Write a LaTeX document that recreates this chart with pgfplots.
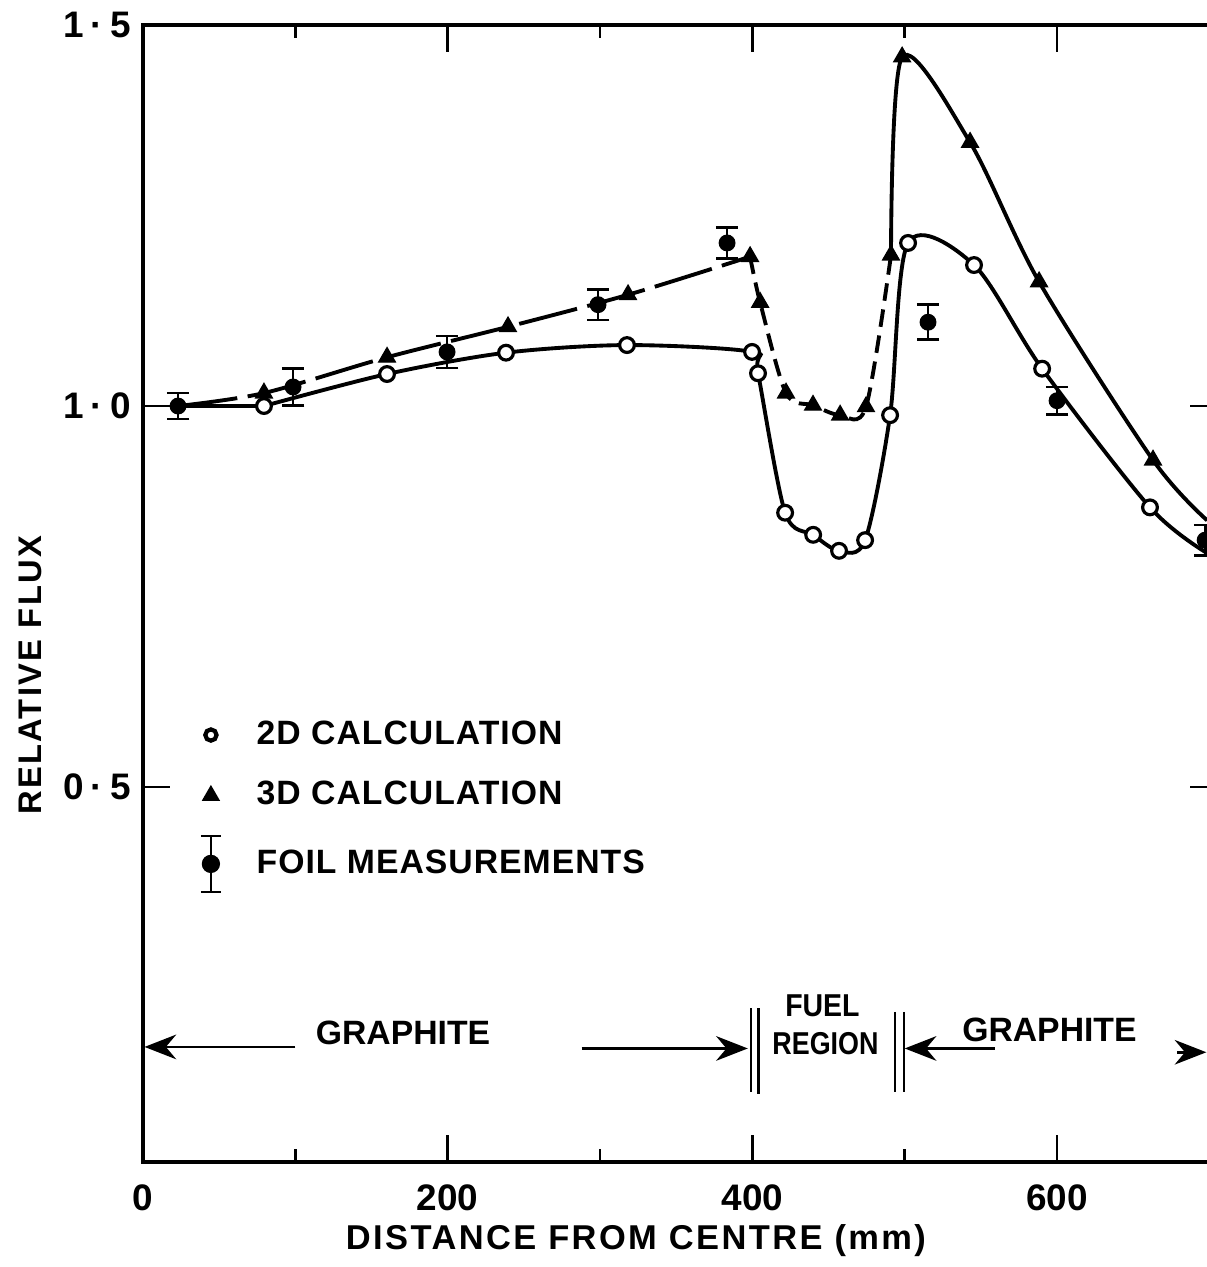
\documentclass[border=0pt]{standalone}
\usepackage{fontspec}
\setmainfont{Liberation Sans}
\usepackage{pgfplots}
\pgfplotsset{compat=1.18}
\usetikzlibrary{arrows.meta}

\begin{document}
\begin{tikzpicture}
\useasboundingbox (-1.43,-1.05) rectangle (10.64,11.62);
\clip (-1.43,-1.05) rectangle (10.64,11.62);
\begin{axis}[
  at={(0,0)}, anchor=south west, scale only axis,
  width=10.74cm, height=11.37cm,
  xmin=0, xmax=705, ymin=0.008, ymax=1.5,
  axis line style={line width=1.2pt},
  every tick/.style={black, line width=0.7pt},
  xtick={0,200,400,600}, minor xtick={100,300,500},
  ytick={0.5,1,1.5},
  yticklabels={0\kern2pt·\kern2pt5, 1\kern2pt·\kern2pt0, 1\kern2pt·\kern2pt5},
  major tick length=0.27cm, minor tick length=0.13cm,
  tick pos=both,
  /pgf/number format/assume math mode=true,
  xticklabel style={font=\bfseries\fontsize{10.5}{12}\selectfont, yshift=-3pt},
  yticklabel style={font=\bfseries\fontsize{10.5}{12}\selectfont},
  xlabel={DISTANCE FROM CENTRE (mm)},
  ylabel={RELATIVE FLUX},
  xlabel style={at={(axis description cs:0.459,-0.069)}, anchor=center, font=\bfseries\fontsize{9.8}{12}\selectfont\addfontfeatures{LetterSpace=7}},
  ylabel style={at={(axis description cs:-0.105,0.428)}, anchor=center, font=\bfseries\fontsize{9.3}{12}\selectfont\addfontfeatures{LetterSpace=7}},
  legend style={at={(axis description cs:0.034,0.395)}, anchor=north west, draw=none, fill=none,
    font=\bfseries\fontsize{9.6}{12}\selectfont\addfontfeatures{LetterSpace=3}, row sep=5pt, inner sep=0pt},
  legend cell align=left,
]
\addlegendimage{legend image code/.code={
  \draw[line width=1.2pt, fill=white] (0.3cm,0cm) circle (1.6pt);
  \path (0cm,0cm) (0.68cm,0cm);}}
\addlegendentry{2D CALCULATION}
\addlegendimage{legend image code/.code={
  \draw[mark=triangle*, mark size=2.6pt, fill=black] plot coordinates {(0.3cm,0cm)};
  \path (0cm,0cm) (0.68cm,0cm);}}
\addlegendentry{3D CALCULATION}
\addlegendimage{legend image code/.code={
  \draw[line width=0.8pt] (0.3cm,-0.28cm) -- (0.3cm,0.28cm);
  \draw[line width=0.8pt] (0.2cm,0.28cm) -- (0.4cm,0.28cm);
  \draw[line width=0.8pt] (0.2cm,-0.28cm) -- (0.4cm,-0.28cm);
  \fill (0.3cm,0cm) circle (2.4pt);
  \path (0cm,0cm) (0.68cm,0cm);}}
\addlegendentry{FOIL MEASUREMENTS}

% 3D curve (line)
\addplot[black, line width=1.1pt, smooth, tension=0.5, dash pattern=on 17pt off 3pt, forget plot] coordinates {
(23,1.000) (79.4,1.017) (160.2,1.064) (239.6,1.104) (318.4,1.146) (398.5,1.196)};
\addplot[black, line width=1.1pt, smooth, tension=0.5, dash pattern=on 5pt off 2.5pt, forget plot] coordinates {
(398.5,1.196) (405.1,1.136) (422.1,1.017) (439.8,1.001) (457.6,0.988) (474.6,0.999) (491.0,1.198)};
\addplot[black, line width=1.1pt, smooth, tension=0.5, forget plot] coordinates {
(491.0,1.198) (498.3,1.458) (542.9,1.346) (588.2,1.163) (663.0,0.929) (698.5,0.850)};

% 2D curve (line)
\addplot[black, line width=1.1pt, forget plot] coordinates {(23,1.000) (79.4,1.000)};
\addplot[black, line width=1.1pt, smooth, tension=0.5, forget plot] coordinates {
(79.4,1.000) (160.2,1.042) (238.3,1.070) (317.7,1.080) (399.8,1.071) (403.7,1.043)
(421.5,0.860) (439.9,0.831) (456.9,0.810) (474.0,0.824) (490.4,0.988) (502.2,1.214)
(545.5,1.185) (590.2,1.049) (661.0,0.867) (698.5,0.807)};

% 2D markers
\addplot[only marks, mark=*, mark size=2.1pt, mark options={fill=white, draw=black, line width=0.9pt}, forget plot] coordinates {
(79.4,1.000) (160.2,1.042) (238.3,1.070) (317.7,1.080) (399.8,1.071) (403.7,1.043)
(421.5,0.860) (439.9,0.831) (456.9,0.810) (474.0,0.824) (490.4,0.988) (502.2,1.214)
(545.5,1.185) (590.2,1.049) (661.0,0.867)};

% 3D markers
\addplot[only marks, mark=triangle*, mark size=2.7pt, mark options={fill=black, draw=black}, forget plot] coordinates {
(79.4,1.017) (160.2,1.064) (239.6,1.104) (318.4,1.146) (398.5,1.196) (405.1,1.136)
(422.1,1.017) (439.8,1.001) (457.6,0.988) (474.6,0.999) (491.0,1.198) (498.3,1.458)
(542.9,1.346) (588.2,1.163) (663.0,0.929)};

% Foil measurements
\addplot[only marks, mark=*, mark size=2.2pt, black, forget plot,
  error bars/.cd, y dir=both, y explicit,
  error bar style={line width=0.8pt},
  error mark options={rotate=90, mark size=3.2pt, line width=0.8pt}] coordinates {
(23,1.000) +- (0,0.017)
(98.5,1.025) +- (0,0.024)
(199.6,1.071) +- (0,0.021)
(298.7,1.133) +- (0,0.020)
(383.4,1.214) +- (0,0.020)
(515.3,1.110) +- (0,0.023)
(600.0,1.007) +- (0,0.018)
(697.2,0.824) +- (0,0.020)};

% Region annotations
\draw[line width=0.8pt, -{Stealth[length=9pt,width=7pt]}] (axis cs:100,0.159) -- (axis cs:1,0.159);
\draw[line width=0.8pt, -{Stealth[length=9pt,width=7pt]}] (axis cs:288,0.157) -- (axis cs:397,0.157);
\draw[line width=0.8pt, -{Stealth[length=9pt,width=7pt]}] (axis cs:559,0.157) -- (axis cs:500,0.157);
\draw[line width=0.8pt, -{Stealth[length=9pt,width=7pt]}] (axis cs:679,0.152) -- (axis cs:698,0.152);
\draw[line width=0.7pt] (axis cs:399,0.210) -- (axis cs:399,0.100);
\draw[line width=0.7pt] (axis cs:404,0.210) -- (axis cs:404,0.097);
\draw[line width=0.7pt] (axis cs:493.7,0.205) -- (axis cs:493.7,0.100);
\draw[line width=0.7pt] (axis cs:499.6,0.205) -- (axis cs:499.6,0.100);
\node[font=\bfseries\fontsize{9.6}{12}\selectfont] at (axis cs:170.7,0.178) {GRAPHITE};
\node[font=\bfseries\fontsize{9.6}{12}\selectfont] at (axis cs:595,0.181) {GRAPHITE};
\node[font=\bfseries\fontsize{9}{11}\selectfont, xscale=0.9] at (axis cs:446,0.213) {FUEL};
\node[font=\bfseries\fontsize{9}{11}\selectfont, xscale=0.85] at (axis cs:448,0.164) {REGION};
\end{axis}
\end{tikzpicture}
\end{document}
